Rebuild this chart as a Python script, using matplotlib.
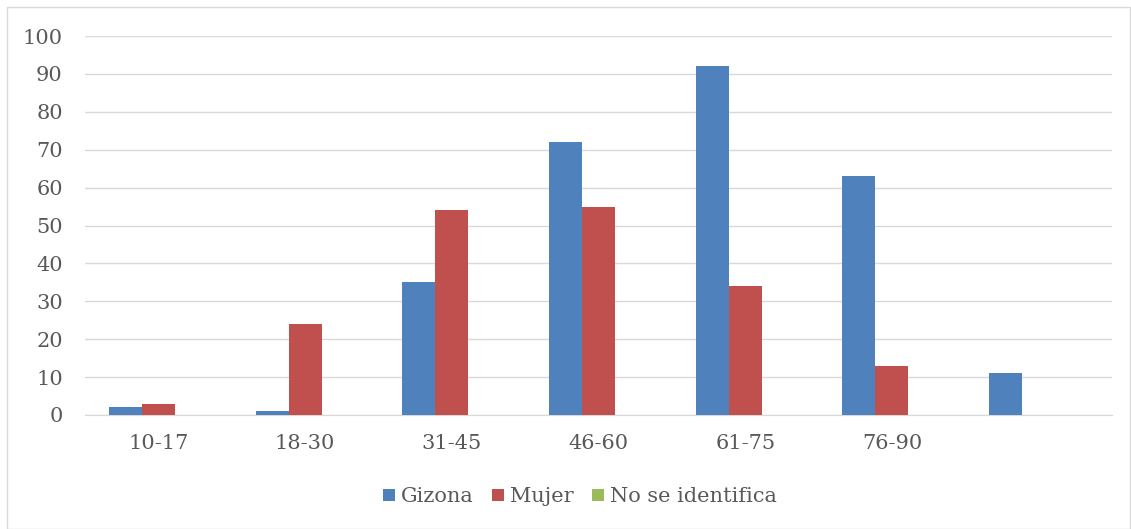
import numpy as np
import matplotlib.pyplot as plt
from matplotlib.patches import Rectangle

categories = ['10-17', '18-30', '31-45', '46-60', '61-75', '76-90', '']
gizona = [2, 1, 35, 72, 92, 63, 11]
mujer = [3, 24, 54, 55, 34, 13, 0]
no_se = [0, 0, 0, 0, 0, 0, 0]
series_names = ['Gizona', 'Mujer', 'No se identifica']
colors = ['#4F81BD', '#C0504D', '#9BBB59']
yticks = list(range(0, 101, 10))

text_color = '#595959'
plt.rcParams['font.family'] = ['DejaVu Serif']

fig = plt.figure(figsize=(11.31, 5.29), dpi=100)
fig.patches.append(Rectangle((7 / 1131, 0), 1 - 8 / 1131, 1 - 7 / 529,
                             transform=fig.transFigure, fill=False,
                             edgecolor='#D9D9D9', linewidth=1))

ax = fig.add_axes([85 / 1131, 1 - 415 / 529, (1112 - 85) / 1131, (415 - 36) / 529])

x = np.arange(len(categories))
w = 0.225
for i, (vals, name) in enumerate(zip([gizona, mujer, no_se], series_names)):
    ax.bar(x + (i - 1) * w, vals, width=w, color=colors[i], label=name, zorder=3)

ax.set_xlim(-0.5, len(categories) - 0.5)
ax.set_ylim(0, 100)
ax.set_yticks(yticks)
ax.set_xticks(x)
ax.set_xticklabels(categories)
ax.grid(axis='y', color='#D9D9D9', linewidth=1, zorder=0)
for s in ['top', 'right', 'left']:
    ax.spines[s].set_visible(False)
ax.spines['bottom'].set_color('#D9D9D9')
ax.tick_params(axis='both', length=0, labelsize=15, labelcolor=text_color)
ax.tick_params(axis='x', pad=14)
ax.tick_params(axis='y', pad=16)

fig.legend(loc='center', bbox_to_anchor=(580 / 1131, 1 - 497 / 529), ncol=3,
           frameon=False, fontsize=15, labelcolor=text_color,
           handlelength=0.55, handleheight=0.55, handletextpad=0.3, columnspacing=0.9)

fig.savefig('out.png', dpi=100)
